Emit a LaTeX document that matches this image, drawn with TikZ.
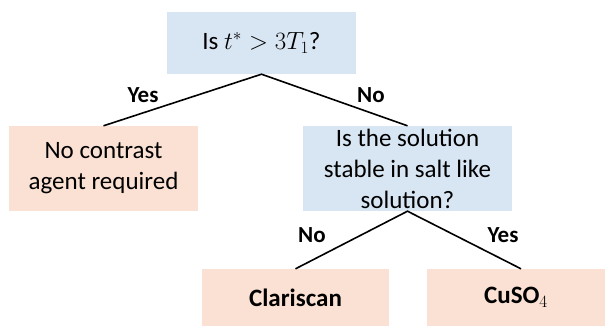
\documentclass[tikz,border=0pt]{standalone}
\usepackage{fontspec}
\setmainfont{Carlito}
\definecolor{qblue}{RGB}{216,229,242}
\definecolor{aorange}{RGB}{250,225,211}
\begin{document}
\begin{tikzpicture}[x=1pt,y=-1pt,
  every node/.style={font=\fontsize{25}{31}\selectfont},
  qbox/.style={fill=qblue, inner sep=0pt, align=center},
  abox/.style={fill=aorange, inner sep=0pt, align=center},
  conn/.style={line width=1.6pt},
  lbl/.style={font=\fontsize{23}{28}\selectfont\bfseries}]
\useasboundingbox (0,0) rectangle (606,327);
\node[qbox, minimum width=189pt, minimum height=62pt] (top) at (261.5,43) {Is $t^{*} > 3T_1$?};
\node[abox, minimum width=189pt, minimum height=85pt] (noc) at (103.5,168.5) {No contrast\\agent required};
\node[qbox, minimum width=209pt, minimum height=85pt] (mid) at (407.5,168.5) {Is the solution\\stable in salt like\\solution?};
\node[abox, minimum width=187pt, minimum height=57pt, font=\fontsize{25}{31}\selectfont\bfseries] (clar) at (295.5,297.5) {Clariscan};
\node[abox, minimum width=178pt, minimum height=57pt, font=\fontsize{25}{31}\selectfont\bfseries] (cuso) at (516,297.5) {CuSO$_4$};
\coordinate (cusotop) at ([xshift=5pt]cuso.north);
\draw[conn] (noc.north) -- (top.south) -- (mid.north);
\draw[conn] (clar.north) -- (mid.south) -- (cusotop);
\node[lbl] (y1) at (143,95) {Yes};
\node[lbl] (n1) at (371,95) {No};
\node[lbl] (n2) at (312,235) {No};
\node[lbl] (y2) at (503,235) {Yes};
\end{tikzpicture}
\end{document}
